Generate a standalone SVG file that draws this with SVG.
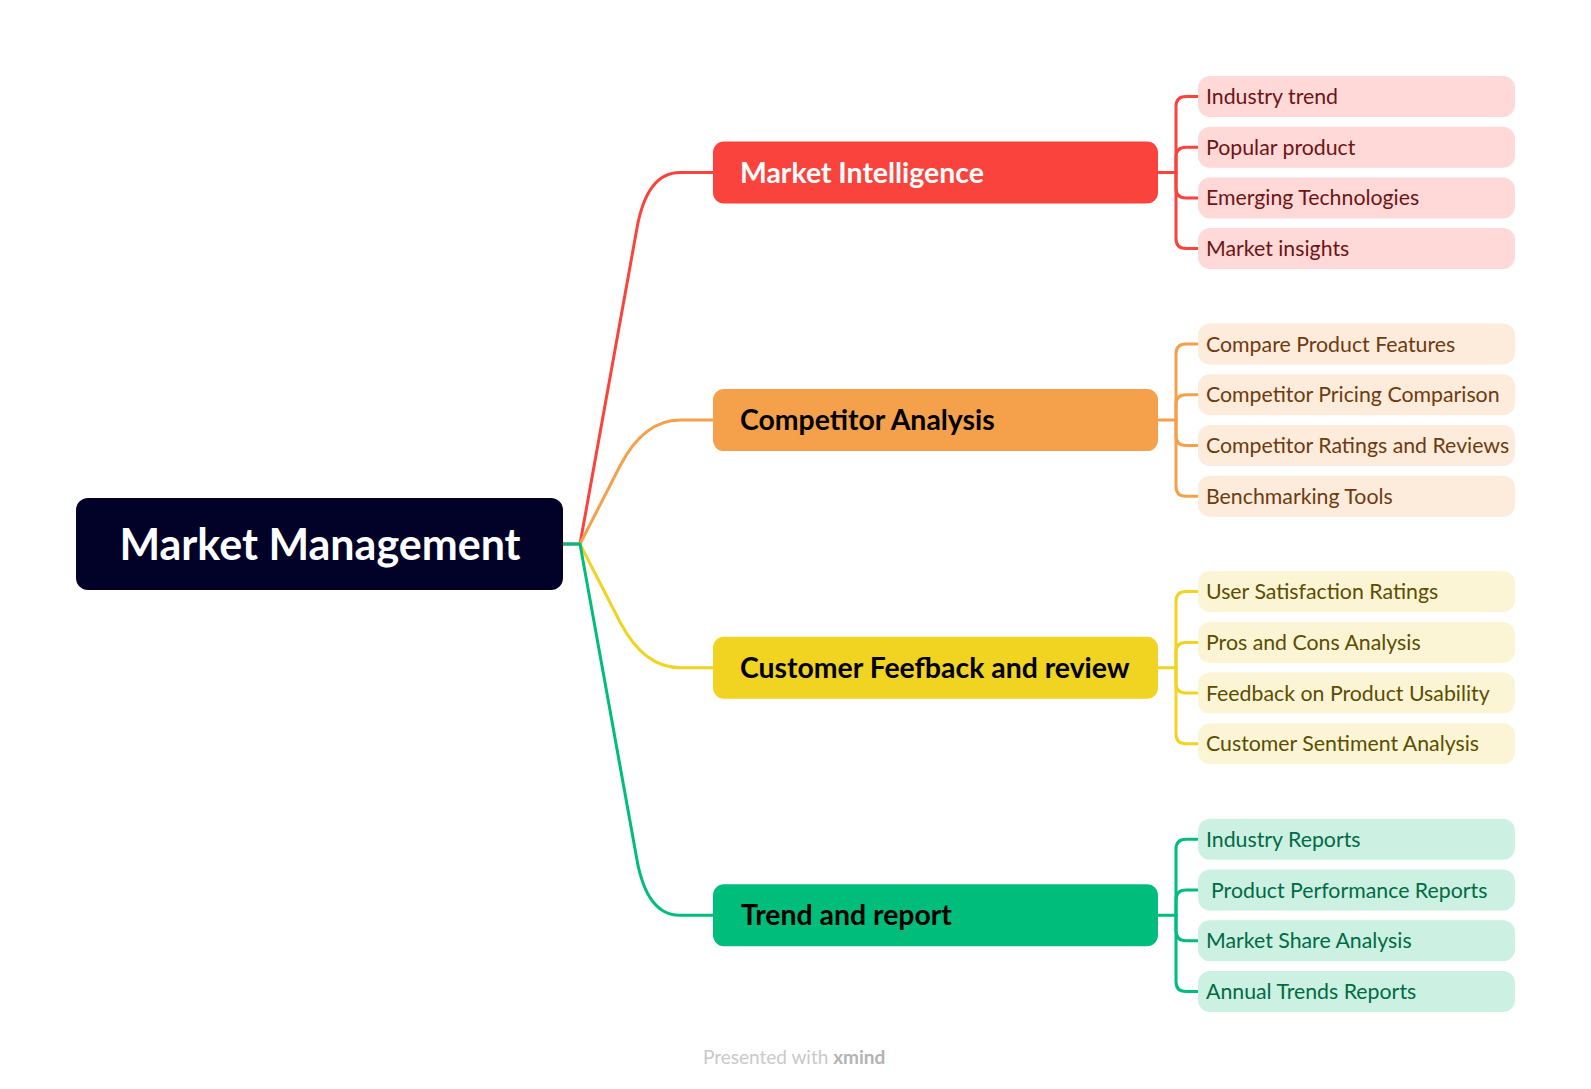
<svg xmlns="http://www.w3.org/2000/svg" width="1591" height="1089" viewBox="0 0 1591 1089">
<style>
.c{fill:none;stroke-width:3;stroke-linecap:round;stroke-linejoin:round}
.main{font-family:Lato,"Noto Sans",sans-serif;font-weight:700;font-size:28.4px}
.sub{font-family:Lato,"Noto Sans",sans-serif;font-size:21.3px}
.r .box{fill:#FA433C}.r .kb{fill:#FED9D8}.r .st{fill:#6E1414}
.o .box{fill:#F5A04B}.o .kb{fill:#FDEBDC}.o .st{fill:#6E3B0E}
.y .box{fill:#F1D321}.y .kb{fill:#FCF5D5}.y .st{fill:#5C4D00}
.g .box{fill:#00BD7B}.g .kb{fill:#CCF1E3}.g .st{fill:#006B43}
</style>
<rect width="1591" height="1089" fill="#FFFFFF"/>
<g id="connectors">
<path class="c" stroke="#FA433C" d="M563,544 H580 L637,228 Q647,172.5 680,172.5 H713"/>
<path class="c" stroke="#F5A04B" d="M580,544 L620,466 Q644,420.1 680,420.1 H713"/>
<path class="c" stroke="#F1D321" d="M580,544 L620,622 Q644,667.7 680,667.7 H713"/>
<path class="c" stroke="#00BD7B" d="M563,544 H580 L637,860 Q647,915.3 680,915.3 H713"/>
<g stroke="#FA433C" class="c">
<path d="M1158,172.5 H1176"/>
<path d="M1176,172.5 V106.5 Q1176,96.5 1186,96.5 H1198"/>
<path d="M1176,172.5 V157.2 Q1176,147.2 1186,147.2 H1198"/>
<path d="M1176,172.5 V187.9 Q1176,197.9 1186,197.9 H1198"/>
<path d="M1176,172.5 V238.6 Q1176,248.6 1186,248.6 H1198"/>
</g>
<g stroke="#F5A04B" class="c">
<path d="M1158,420.1 H1176"/>
<path d="M1176,420.1 V354 Q1176,344 1186,344 H1198"/>
<path d="M1176,420.1 V404.8 Q1176,394.8 1186,394.8 H1198"/>
<path d="M1176,420.1 V435.5 Q1176,445.5 1186,445.5 H1198"/>
<path d="M1176,420.1 V486.2 Q1176,496.2 1186,496.2 H1198"/>
</g>
<g stroke="#F1D321" class="c">
<path d="M1158,667.7 H1176"/>
<path d="M1176,667.7 V601.6 Q1176,591.6 1186,591.6 H1198"/>
<path d="M1176,667.7 V652.4 Q1176,642.4 1186,642.4 H1198"/>
<path d="M1176,667.7 V683.1 Q1176,693.1 1186,693.1 H1198"/>
<path d="M1176,667.7 V733.8 Q1176,743.8 1186,743.8 H1198"/>
</g>
<g stroke="#00BD7B" class="c">
<path d="M1158,915.3 H1176"/>
<path d="M1176,915.3 V849.2 Q1176,839.2 1186,839.2 H1198"/>
<path d="M1176,915.3 V900 Q1176,890 1186,890 H1198"/>
<path d="M1176,915.3 V930.7 Q1176,940.7 1186,940.7 H1198"/>
<path d="M1176,915.3 V981.4 Q1176,991.4 1186,991.4 H1198"/>
</g>
</g>
<g id="root">
<rect x="76" y="498" width="487" height="92" rx="12" fill="#020228"/>
<text x="320" y="560" text-anchor="middle" font-family="Lato,'Noto Sans',sans-serif" font-weight="700" font-size="43" fill="#FFFFFF">Market Management</text>
</g>
<g id="market-intelligence" class="r">
<rect class="box" x="713" y="141.5" width="445" height="62" rx="11"/>
<text class="main" x="740" y="182.5" fill="#FFFFFF">Market Intelligence</text>
</g>
<g id="mi-1" class="r"><rect class="kb" x="1198" y="76" width="317" height="41" rx="12"/><text class="sub st" x="1206" y="104">Industry trend</text></g>
<g id="mi-2" class="r"><rect class="kb" x="1198" y="126.7" width="317" height="41" rx="12"/><text class="sub st" x="1206" y="154.7">Popular product</text></g>
<g id="mi-3" class="r"><rect class="kb" x="1198" y="177.4" width="317" height="41" rx="12"/><text class="sub st" x="1206" y="205.4">Emerging Technologies</text></g>
<g id="mi-4" class="r"><rect class="kb" x="1198" y="228.1" width="317" height="41" rx="12"/><text class="sub st" x="1206" y="256.1">Market insights</text></g>
<g id="competitor-analysis" class="o">
<rect class="box" x="713" y="389.1" width="445" height="62" rx="11"/>
<text class="main" x="740" y="430.1" fill="#000000">Competitor Analysis</text>
</g>
<g id="ca-1" class="o"><rect class="kb" x="1198" y="323.5" width="317" height="41" rx="12"/><text class="sub st" x="1206" y="351.5">Compare Product Features</text></g>
<g id="ca-2" class="o"><rect class="kb" x="1198" y="374.3" width="317" height="41" rx="12"/><text class="sub st" x="1206" y="402.3">Competitor Pricing Comparison</text></g>
<g id="ca-3" class="o"><rect class="kb" x="1198" y="425" width="317" height="41" rx="12"/><text class="sub st" x="1206" y="453">Competitor Ratings and Reviews</text></g>
<g id="ca-4" class="o"><rect class="kb" x="1198" y="475.7" width="317" height="41" rx="12"/><text class="sub st" x="1206" y="503.7">Benchmarking Tools</text></g>
<g id="customer-feedback" class="y">
<rect class="box" x="713" y="636.7" width="445" height="62" rx="11"/>
<text class="main" x="740" y="677.7" fill="#000000">Customer Feefback and review</text>
</g>
<g id="cf-1" class="y"><rect class="kb" x="1198" y="571.1" width="317" height="41" rx="12"/><text class="sub st" x="1206" y="599.1">User Satisfaction Ratings</text></g>
<g id="cf-2" class="y"><rect class="kb" x="1198" y="621.9" width="317" height="41" rx="12"/><text class="sub st" x="1206" y="649.9">Pros and Cons Analysis</text></g>
<g id="cf-3" class="y"><rect class="kb" x="1198" y="672.6" width="317" height="41" rx="12"/><text class="sub st" x="1206" y="700.6">Feedback on Product Usability</text></g>
<g id="cf-4" class="y"><rect class="kb" x="1198" y="723.3" width="317" height="41" rx="12"/><text class="sub st" x="1206" y="751.3">Customer Sentiment Analysis</text></g>
<g id="trend-report" class="g">
<rect class="box" x="713" y="884.3" width="445" height="62" rx="11"/>
<text class="main" x="741" y="925.3" fill="#000000">Trend and report</text>
</g>
<g id="tr-1" class="g"><rect class="kb" x="1198" y="818.7" width="317" height="41" rx="12"/><text class="sub st" x="1206" y="846.7">Industry Reports</text></g>
<g id="tr-2" class="g"><rect class="kb" x="1198" y="869.5" width="317" height="41" rx="12"/><text class="sub st" x="1211" y="897.5">Product Performance Reports</text></g>
<g id="tr-3" class="g"><rect class="kb" x="1198" y="920.2" width="317" height="41" rx="12"/><text class="sub st" x="1206" y="948.2">Market Share Analysis</text></g>
<g id="tr-4" class="g"><rect class="kb" x="1198" y="970.9" width="317" height="41" rx="12"/><text class="sub st" x="1206" y="998.9">Annual Trends Reports</text></g>
<g id="footer">
<text x="703" y="1064" font-family="Lato,'Noto Sans',sans-serif" font-size="19" fill="#C9C9C9">Presented with <tspan font-weight="700" fill="#B3B3B3">xmind</tspan></text>
</g>
</svg>
